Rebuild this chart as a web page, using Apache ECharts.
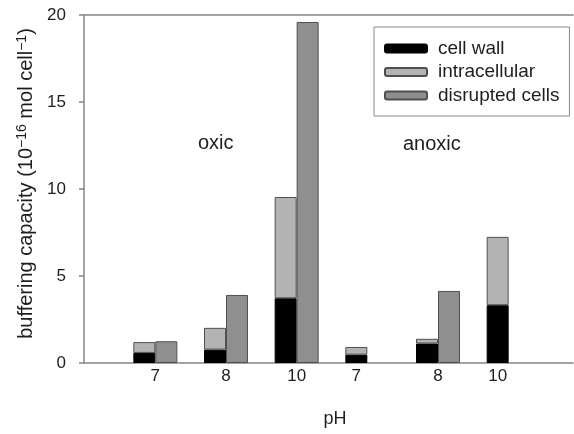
<!DOCTYPE html>
<html>
<head>
<meta charset="utf-8">
<script src="https://cdn.jsdelivr.net/npm/echarts@6/dist/echarts.min.js"></script>
<style>html,body{margin:0;padding:0;background:#fff}#c{width:574px;height:434px}</style>
</head>
<body>
<div id="c"></div>
<script>
// ---- data ----
const conditions = ['oxic', 'oxic', 'oxic', 'anoxic', 'anoxic', 'anoxic'];
const phLabels = ['7', '8', '10', '7', '8', '10'];
const cellWall = [0.58, 0.77, 3.72, 0.48, 1.12, 3.32];
const intracellular = [0.62, 1.25, 5.82, 0.44, 0.27, 3.93];
const disruptedCells = [1.25, 3.91, 19.6, null, 4.14, null];
const yTicks = [0, 5, 10, 15, 20];
const seriesNames = ['cell wall', 'intracellular', 'disrupted cells'];
const groupLabels = ['oxic', 'anoxic'];

const FONT = 'Liberation Sans, Arial, sans-serif';
const TXT = '#1e1e1e';
const AXIS = '#858585';
const yMin = yTicks[0], yMax = yTicks[yTicks.length - 1], yStep = yTicks[1] - yTicks[0];

const chart = echarts.init(document.getElementById('c'), null, {renderer: 'canvas'});
chart.setOption({
  animation: false,
  backgroundColor: '#fff',
  textStyle: {fontFamily: FONT, color: TXT},
  grid: [
    {left: 84, top: 15, right: 1, bottom: 71},   // frame
    {left: 120, top: 15, right: 30, bottom: 71}  // bars
  ],
  legend: {
    orient: 'vertical', left: 374, top: 27,
    padding: [12, 10, 11, 10],
    itemWidth: 42, itemHeight: 8, itemGap: 4.5,
    borderColor: '#888', borderWidth: 1,
    textStyle: {fontFamily: FONT, fontSize: 19, color: TXT, padding: [0, 0, 0, 6]},
    data: seriesNames
  },
  xAxis: [{
    gridIndex: 0, type: 'value', min: 0, max: 1,
    axisLine: {show: true, lineStyle: {color: AXIS, width: 1.5}},
    axisTick: {show: false}, splitLine: {show: false}, axisLabel: {show: false},
    name: 'pH', nameLocation: 'middle', nameGap: 47,
    nameTextStyle: {fontSize: 18, color: TXT, fontFamily: FONT, padding: [0, 0, 0, 13]}
  }, {
    gridIndex: 0, type: 'value', position: 'top', min: 0, max: 1,
    axisLine: {show: true, onZero: false, lineStyle: {color: AXIS, width: 1.5}},
    axisTick: {show: false}, axisLabel: {show: false}, splitLine: {show: false}
  }, {
    gridIndex: 1, type: 'category', data: phLabels, boundaryGap: true,
    axisLine: {show: false}, axisTick: {show: false}, splitLine: {show: false},
    axisLabel: {
      margin: 5, fontSize: 17, color: TXT, fontFamily: FONT, interval: 0,
      formatter: function (v, i) {
        return disruptedCells[i] == null ? '{s|' + v + '}' : v;
      },
      rich: {s: {fontSize: 17, color: TXT, fontFamily: FONT, padding: [0, 22, 0, 0]}}
    }
  }],
  yAxis: [{
    gridIndex: 0, type: 'value', min: yMin, max: yMax, interval: yStep,
    axisLine: {show: true, lineStyle: {color: AXIS, width: 1.5}},
    axisTick: {show: true, inside: false, length: 5, lineStyle: {color: AXIS, width: 1.5}},
    splitLine: {show: false},
    axisLabel: {margin: 18, fontSize: 17, color: TXT, fontFamily: FONT},
    name: 'buffering capacity (10{sup|\u221216} mol cell{sup|\u22121})',
    nameLocation: 'middle', nameGap: 45, nameRotate: 90,
    nameTextStyle: {
      fontSize: 20, color: TXT, fontFamily: FONT, padding: [0, 0, 0, 11],
      rich: {sup: {fontSize: 14, color: TXT, fontFamily: FONT, padding: [0, 0, 9, 0]}}
    }
  }, {
    gridIndex: 1, type: 'value', min: yMin, max: yMax, interval: yStep, show: false
  }],
  graphic: [
    {type: 'text', left: 198, top: 133, style: {text: groupLabels[0], font: '20px ' + FONT, fill: TXT}},
    {type: 'text', left: 403, top: 134, style: {text: groupLabels[1], font: '20px ' + FONT, fill: TXT}}
  ],
  series: [{
    name: seriesNames[0], type: 'bar', xAxisIndex: 2, yAxisIndex: 1, stack: 'cells',
    barWidth: 22, barGap: '0%',
    itemStyle: {color: '#000', borderColor: '#000', borderWidth: 1},
    data: cellWall
  }, {
    name: seriesNames[1], type: 'bar', xAxisIndex: 2, yAxisIndex: 1, stack: 'cells',
    barWidth: 22, barGap: '0%',
    itemStyle: {color: '#b3b3b3', borderColor: '#4f4f4f', borderWidth: 1},
    data: intracellular
  }, {
    name: seriesNames[2], type: 'bar', xAxisIndex: 2, yAxisIndex: 1,
    barWidth: 22, barGap: '0%',
    itemStyle: {color: '#8f8f8f', borderColor: '#4f4f4f', borderWidth: 1},
    data: disruptedCells
  }]
});
</script>
</body>
</html>
